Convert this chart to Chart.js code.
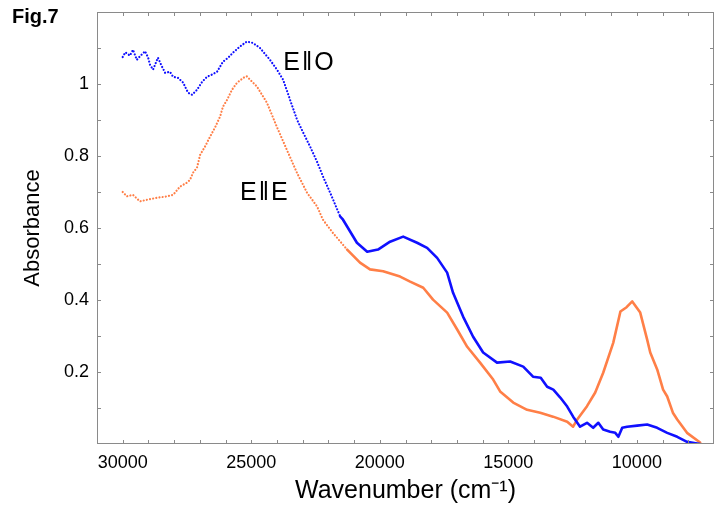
<!DOCTYPE html>
<html>
<head>
<meta charset="utf-8">
<script src="https://cdn.jsdelivr.net/npm/chart.js@4.4.1/dist/chart.umd.min.js"></script>
<style>
  html, body { margin: 0; padding: 0; background: #fff; }
  #wrap { width: 720px; height: 512px; }
</style>
</head>
<body>
<div id="wrap"><canvas id="spectrum"></canvas></div>
<script>
// E||O spectrum (blue)
const oWave = [30000, 29900, 29720, 29600, 29450, 29330, 29130, 29010, 28940, 28820,
  28630, 28470, 28350, 28160, 28040, 27850, 27650, 27460, 27300, 27110,
  26910, 26720, 26530, 26330, 26100, 25900, 25710, 25440, 25170, 24930,
  24660, 24270, 24000, 23760, 23490, 23220, 22980, 22710, 22440, 22210,
  21930, 21540, 21430, 20890, 20490, 20070, 19600, 19090, 18550, 18160,
  17770, 17380, 17150, 16760, 16370, 15980, 15440, 14930, 14420, 14040,
  13740, 13490, 13250, 12980, 12710, 12480, 12210, 11940, 11700, 11500,
  11310, 11040, 10840, 10720, 10570, 10380, 9990, 9600, 9210, 8820,
  8430, 8050, 7540];
const oAbs = [1.075, 1.088, 1.079, 1.095, 1.067, 1.077, 1.091, 1.073, 1.054, 1.040,
  1.073, 1.048, 1.031, 1.034, 1.020, 1.017, 1.004, 0.976, 0.970, 0.984,
  1.006, 1.020, 1.026, 1.034, 1.062, 1.073, 1.087, 1.104, 1.118, 1.114,
  1.100, 1.067, 1.040, 1.012, 0.956, 0.901, 0.865, 0.826, 0.784, 0.743,
  0.698, 0.632, 0.623, 0.559, 0.534, 0.540, 0.562, 0.576, 0.559, 0.545,
  0.517, 0.476, 0.420, 0.354, 0.298, 0.254, 0.226, 0.229, 0.215, 0.187,
  0.184, 0.159, 0.151, 0.129, 0.104, 0.076, 0.048, 0.059, 0.045, 0.059,
  0.040, 0.034, 0.031, 0.020, 0.045, 0.048, 0.051, 0.054, 0.045, 0.031,
  0.020, 0.006, 0.000];

// E||E spectrum (orange)
const eWave = [30000, 29840, 29600, 29330, 29020, 28670, 28350, 28040, 27770, 27500,
  27380, 27270, 27110, 26990, 26800, 26600, 26410, 26210, 26100, 25940,
  25750, 25560, 25250, 25170, 24780, 24390, 24010, 23620, 23220, 22830,
  22440, 22210, 21820, 21270, 20770, 20380, 19870, 19210, 18820, 18310,
  17930, 17380, 16990, 16600, 16100, 15590, 15320, 14810, 14270, 13760,
  13260, 12710, 12480, 12320, 11940, 11620, 11310, 10920, 10640, 10400,
  10180, 9870, 9600, 9480, 9210, 8980, 8820, 8600, 8430, 8050,
  7540];
const eAbs = [0.700, 0.688, 0.692, 0.674, 0.679, 0.684, 0.687, 0.692, 0.715, 0.726,
  0.734, 0.753, 0.768, 0.803, 0.826, 0.854, 0.879, 0.910, 0.937, 0.956,
  0.984, 1.003, 1.020, 1.021, 0.993, 0.948, 0.882, 0.818, 0.753, 0.698,
  0.660, 0.623, 0.586, 0.540, 0.504, 0.485, 0.480, 0.465, 0.451, 0.434,
  0.401, 0.365, 0.318, 0.270, 0.226, 0.179, 0.146, 0.115, 0.095, 0.087,
  0.076, 0.062, 0.048, 0.068, 0.105, 0.143, 0.198, 0.281, 0.368, 0.380,
  0.396, 0.365, 0.290, 0.254, 0.207, 0.151, 0.132, 0.087, 0.068, 0.031,
  0.004];

// label tick values
const xLabels = [30000, 25000, 20000, 15000, 10000];
const yLabels = [0.2, 0.4, 0.6, 0.8, 1.0];

// curve labels (data coords, left/baseline)
const curveNotes = [
  { text: 'E\u200A\u2016\u200AO', x: 23760, y: 1.04 },
  { text: 'E\u200A\u2016\u200AE', x: 25440, y: 0.678 }
];

const FONT = '"Liberation Sans", Arial, sans-serif';
const BLUE = '#1010ff';
const ORANGE = '#ff7f47';
const DOT_FROM = 21800;   // left of this the spectra look dotted

Chart.defaults.font.family = FONT;
Chart.defaults.color = '#000';

function toPoints(xs, ys) {
  return xs.map((v, i) => ({ x: v, y: ys[i] }));
}

function dotted(ctx) {
  return ctx.p0.parsed.x > DOT_FROM ? [0.01, 3.2] : undefined;
}

function dotWidth(ctx) {
  return ctx.p0.parsed.x > DOT_FROM ? 2.2 : 2.6;
}

// frame, inward ticks and text labels
const framePlugin = {
  id: 'frame',
  afterDraw(chart) {
    const { ctx, chartArea: a, scales: { x, y } } = chart;
    ctx.save();
    ctx.strokeStyle = '#8a8a8a';
    ctx.lineWidth = 1;
    ctx.strokeRect(a.left + 0.5, a.top + 0.5, a.right - a.left - 1, a.bottom - a.top - 1);

    ctx.beginPath();
    for (let v = 8000; v <= 30000; v += 1000) {
      const px = Math.round(x.getPixelForValue(v)) + 0.5;
      ctx.moveTo(px, a.bottom); ctx.lineTo(px, a.bottom - 4);
      ctx.moveTo(px, a.top); ctx.lineTo(px, a.top + 4);
    }
    for (let i = 1; i <= 11; i++) {
      const py = Math.round(y.getPixelForValue(i / 10)) + 0.5;
      ctx.moveTo(a.left, py); ctx.lineTo(a.left + 4, py);
      ctx.moveTo(a.right, py); ctx.lineTo(a.right - 4, py);
    }
    ctx.stroke();

    ctx.fillStyle = '#000';
    ctx.textBaseline = 'alphabetic';
    ctx.textAlign = 'left';
    ctx.font = '25px ' + FONT;
    curveNotes.forEach(n => {
      ctx.fillText(n.text, x.getPixelForValue(n.x), y.getPixelForValue(n.y));
    });

    ctx.font = 'bold 20px ' + FONT;
    ctx.fillText('Fig.7', 12, 23);
    ctx.restore();
  }
};

new Chart(document.getElementById('spectrum'), {
  type: 'line',
  data: {
    datasets: [
      {
        label: 'E||O',
        data: toPoints(oWave, oAbs),
        borderColor: BLUE,
        borderWidth: 2.6,
        borderCapStyle: 'round',
        borderJoinStyle: 'round',
        pointRadius: 0,
        tension: 0,
        segment: { borderDash: dotted, borderWidth: dotWidth }
      },
      {
        label: 'E||E',
        data: toPoints(eWave, eAbs),
        borderColor: ORANGE,
        borderWidth: 2.6,
        borderCapStyle: 'round',
        borderJoinStyle: 'round',
        pointRadius: 0,
        tension: 0,
        segment: { borderDash: dotted, borderWidth: dotWidth }
      }
    ]
  },
  options: {
    responsive: true,
    maintainAspectRatio: false,
    animation: false,
    layout: { padding: { top: 12, right: 6, left: 0, bottom: 0 } },
    plugins: {
      legend: { display: false },
      tooltip: { enabled: false }
    },
    scales: {
      x: {
        type: 'linear',
        reverse: true,
        min: 7000,
        max: 31000,
        afterFit: s => { s.height = 68; s.paddingLeft = 0; s.paddingRight = 0; },
        grid: { display: false, drawTicks: false, tickLength: 0 },
        border: { display: false },
        ticks: {
          stepSize: 1000,
          autoSkip: false,
          maxRotation: 0,
          padding: 8,
          font: { size: 18 },
          callback: v => xLabels.includes(v) ? String(v) : ''
        },
        title: {
          display: true,
          text: 'Wavenumber (cm\u207B\u00B9)',
          font: { size: 25 },
          padding: { top: 0, bottom: 6 }
        }
      },
      y: {
        min: 0,
        max: 1.2,
        afterFit: s => { s.width = 97; s.paddingTop = 0; s.paddingBottom = 0; },
        grid: { display: false, drawTicks: false, tickLength: 0 },
        border: { display: false },
        ticks: {
          stepSize: 0.1,
          autoSkip: false,
          padding: 8,
          font: { size: 18 },
          callback: v => {
            const hit = yLabels.find(l => Math.abs(l - v) < 1e-6);
            if (hit === undefined) return '';
            return hit === 1 ? '1' : hit.toFixed(1);
          }
        },
        title: {
          display: true,
          text: 'Absorbance',
          font: { size: 22 },
          padding: { top: 20, bottom: 0 }
        }
      }
    }
  },
  plugins: [framePlugin]
});
</script>
</body>
</html>
